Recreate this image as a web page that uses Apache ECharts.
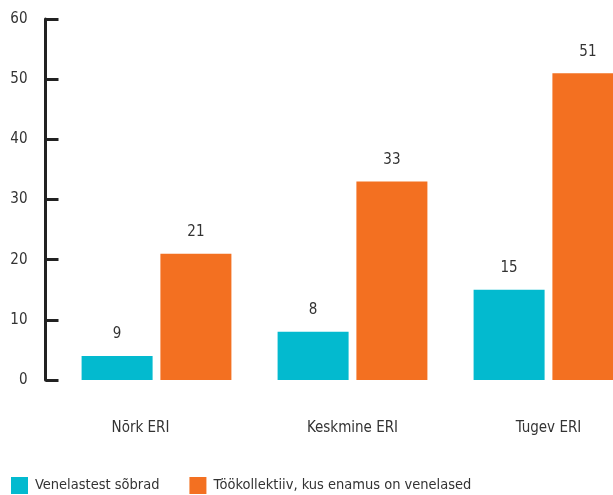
<!DOCTYPE html>
<html>
<head>
<meta charset="utf-8">
<script src="https://cdn.jsdelivr.net/npm/echarts@6/dist/echarts.min.js"></script>
<style>
  html, body { margin: 0; padding: 0; background: #fff; }
  #chart { width: 613px; height: 495px; }
</style>
</head>
<body>
<div id="chart"></div>
<script>
// andmed
var categories = ['Nõrk ERI', 'Keskmine ERI', 'Tugev ERI'];
var seriesNames = ['Venelastest sõbrad', 'Töökollektiiv, kus enamus on venelased'];
var friendsValues = [4, 8, 15];      // bar heights as drawn
var friendsLabels = [9, 8, 15];      // labels as printed
var workValues = [21, 33, 51];
var workLabels = [21, 33, 51];
var yTicks = [0, 10, 20, 30, 40, 50, 60];

var font = '"DejaVu Sans Condensed", "Liberation Sans Narrow", sans-serif';

var chart = echarts.init(document.getElementById('chart'));
window.addEventListener('resize', function () {
  chart.resize();
});

// first category label sits a bit left of its group in the original
var catData = categories.map(function (c, i) {
  return i === 0 ? { value: c, textStyle: { padding: [0, 32, 0, 0] } } : c;
});

var option = {
  animation: false,
  grid: {
    left: 58.5,
    width: 588,
    top: 19,
    bottom: 115,
    containLabel: false,
    outerBoundsMode: 'none'
  },
  legend: {
    left: 6,
    bottom: -4,
    icon: 'rect',
    itemWidth: 17,
    itemHeight: 17,
    itemGap: 30,
    textStyle: { fontFamily: font, fontSize: 14.5, color: '#333', padding: [0, 0, 0, 2] },
    data: seriesNames
  },
  xAxis: {
    type: 'category',
    data: catData,
    axisLine: { show: false },
    axisTick: { show: false },
    axisLabel: { fontFamily: font, fontSize: 15, color: '#333', margin: 41 }
  },
  yAxis: {
    type: 'value',
    min: yTicks[0],
    max: yTicks[yTicks.length - 1],
    interval: 10,
    offset: 13,
    splitLine: { show: false },
    axisLine: { show: true, lineStyle: { color: '#222', width: 3 } },
    axisTick: { show: true, inside: true, length: 13, lineStyle: { color: '#222', width: 3 } },
    axisLabel: { fontFamily: font, fontSize: 15, color: '#333', margin: 18 }
  },
  series: [
    {
      name: seriesNames[0],
      type: 'bar',
      data: friendsValues,
      barWidth: 71,
      barGap: '11%',
      itemStyle: { color: '#03bacf' },
      label: {
        show: true,
        position: 'top',
        distance: 14,
        fontFamily: font,
        fontSize: 15,
        color: '#333',
        formatter: function (p) { return friendsLabels[p.dataIndex]; }
      }
    },
    {
      name: seriesNames[1],
      type: 'bar',
      data: workValues,
      barWidth: 71,
      itemStyle: { color: '#f37021' },
      label: {
        show: true,
        position: 'top',
        distance: 14,
        fontFamily: font,
        fontSize: 15,
        color: '#333',
        formatter: function (p) { return workLabels[p.dataIndex]; }
      }
    }
  ]
};
chart.setOption(option);
</script>
</body>
</html>
